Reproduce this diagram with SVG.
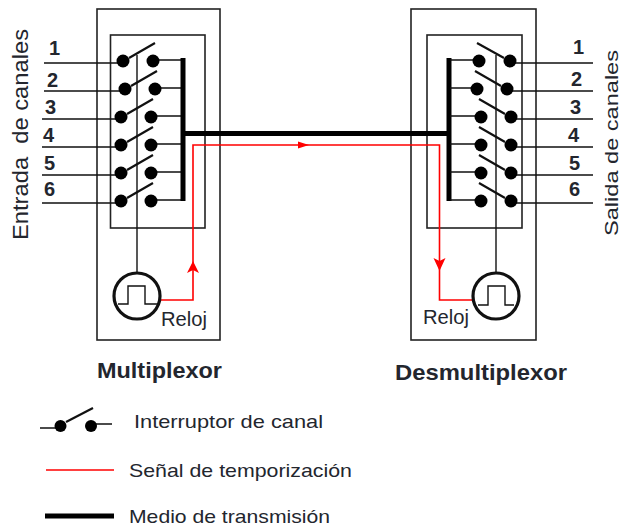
<svg xmlns="http://www.w3.org/2000/svg" width="622" height="528" viewBox="0 0 622 528">
<style>
text{font-family:"Liberation Sans",Arial,sans-serif;fill:#23262e}
.box{fill:none;stroke:#222;stroke-width:1.6}
.w{fill:none;stroke:#111;stroke-width:1.4}
.arm{fill:none;stroke:#111;stroke-width:2.200}
.bus{fill:none;stroke:#000;stroke-width:5}
.red{fill:none;stroke:#f00;stroke-width:1.6}
.ah{fill:#f00}
.dot{fill:#000}
.clk{fill:#fff;stroke:#111;stroke-width:3.200}
.num{font-size:20px;font-weight:bold}
.ttl{font-size:22px;font-weight:bold}
.side{font-size:22px}
.side2{font-size:19px}
.lab{font-size:20px}
.leg{font-size:19px}
</style>
<rect width="622" height="528" fill="#fff"/>
<g id="multiplexor">
<rect class="box" x="97" y="9" width="123" height="331"/>
<rect class="box" x="110.500" y="35" width="94.500" height="193"/>
<text class="ttl" x="97" y="378" textLength="125" lengthAdjust="spacingAndGlyphs">Multiplexor</text>
</g>
<g id="demultiplexor">
<rect class="box" x="411" y="9" width="125" height="331"/>
<rect class="box" x="427" y="35" width="95" height="193"/>
<text class="ttl" x="395" y="380" textLength="172" lengthAdjust="spacingAndGlyphs">Desmultiplexor</text>
</g>
<g id="connectors">
<path class="w" d="M44 63H123M44 91H125M42 119H121M42 147H121M42 175H121M42 203H121"/>
<path class="w" d="M153 60H182M155 88H182M151 116H182M151 144H182M151 172H182M151 200H182"/>
<path class="w" d="M137 55V272"/>
<path class="bus" d="M183 58V201M183 133.500H449M449 58V201"/>
<path class="w" d="M593 63H510M593 91H507M593 119H511M593 147H511M593 175H511M593 203H511"/>
<path class="w" d="M479 60H450M477 88H450M481 116H450M481 144H450M481 172H450M481 200H450"/>
<path class="w" d="M496 55V272"/>
<path class="red" d="M161 300H193V145H439.500V300H472"/>
<path class="ah" d="M193 261L199 273L193 270L187 273Z"/>
<path class="ah" d="M439.500 271L433.500 258L439.500 261L445.500 258Z"/>
<path class="ah" d="M309 145L298 141.500V148.500Z"/>
</g>
<g id="switches-left">
<g class="dot">
<circle cx="123" cy="61" r="6.500"/><circle cx="153" cy="61" r="6.500"/>
<circle cx="125" cy="89" r="6.500"/><circle cx="155" cy="89" r="6.500"/>
<circle cx="121" cy="117" r="6.500"/><circle cx="151" cy="117" r="6.500"/>
<circle cx="121" cy="145" r="6.500"/><circle cx="151" cy="145" r="6.500"/>
<circle cx="121" cy="173" r="6.500"/><circle cx="151" cy="173" r="6.500"/>
<circle cx="121" cy="201" r="6.500"/><circle cx="151" cy="201" r="6.500"/>
</g>
<path class="arm" d="M129 58L155 43M131 86L157 71M127 114L153 99M127 142L153 127M127 170L153 155M127 198L153 183"/>
</g>
<g id="switches-right">
<g class="dot">
<circle cx="479" cy="61" r="6.500"/><circle cx="510" cy="61" r="6.500"/>
<circle cx="477" cy="89" r="6.500"/><circle cx="507" cy="89" r="6.500"/>
<circle cx="481" cy="117" r="6.500"/><circle cx="511" cy="117" r="6.500"/>
<circle cx="481" cy="145" r="6.500"/><circle cx="511" cy="145" r="6.500"/>
<circle cx="481" cy="173" r="6.500"/><circle cx="511" cy="173" r="6.500"/>
<circle cx="481" cy="201" r="6.500"/><circle cx="511" cy="201" r="6.500"/>
</g>
<path class="arm" d="M477 43L504 58M475 71L501 86M479 99L505 114M479 127L505 142M479 155L505 170M479 183L505 198"/>
</g>
<g id="clock-left">
<circle class="clk" cx="137" cy="296" r="23"/>
<path class="w" d="M118 304H128V286H145V304H158"/>
<text class="lab" x="161" y="326" textLength="46" lengthAdjust="spacingAndGlyphs">Reloj</text>
</g>
<g id="clock-right">
<circle class="clk" cx="496" cy="296" r="23"/>
<path class="w" d="M478 305H488V286H505V305H514"/>
<text class="lab" x="423" y="324" textLength="46" lengthAdjust="spacingAndGlyphs">Reloj</text>
</g>
<g id="channel-labels">
<text class="num" x="49" y="55">1</text>
<text class="num" x="47" y="87">2</text>
<text class="num" x="45" y="114">3</text>
<text class="num" x="43" y="142">4</text>
<text class="num" x="44" y="170">5</text>
<text class="num" x="44" y="196">6</text>
<text class="num" x="573" y="54">1</text>
<text class="num" x="571" y="86">2</text>
<text class="num" x="570" y="114">3</text>
<text class="num" x="568" y="142">4</text>
<text class="num" x="569" y="170">5</text>
<text class="num" x="569" y="196">6</text>
<text class="side" transform="translate(28 240) rotate(-90)" textLength="211" lengthAdjust="spacingAndGlyphs" xml:space="preserve">Entrada  de canales</text>
<text class="side2" transform="translate(618 236) rotate(-90)" textLength="186" lengthAdjust="spacingAndGlyphs">Salida de canales</text>
</g>
<g id="legend">
<path class="w" d="M40 428H60M91 424H112"/>
<path class="arm" d="M66 422L93 408"/>
<circle class="dot" cx="60.500" cy="426" r="6"/>
<circle class="dot" cx="91" cy="426" r="6"/>
<text class="leg" x="134" y="428" textLength="189" lengthAdjust="spacingAndGlyphs">Interruptor de canal</text>
<path class="red" d="M46 470H114"/>
<text class="leg" x="129" y="477" textLength="223" lengthAdjust="spacingAndGlyphs">Señal de temporización</text>
<path class="bus" d="M45 516H114"/>
<text class="leg" x="129" y="523" textLength="201" lengthAdjust="spacingAndGlyphs">Medio de transmisión</text>
</g>
</svg>
